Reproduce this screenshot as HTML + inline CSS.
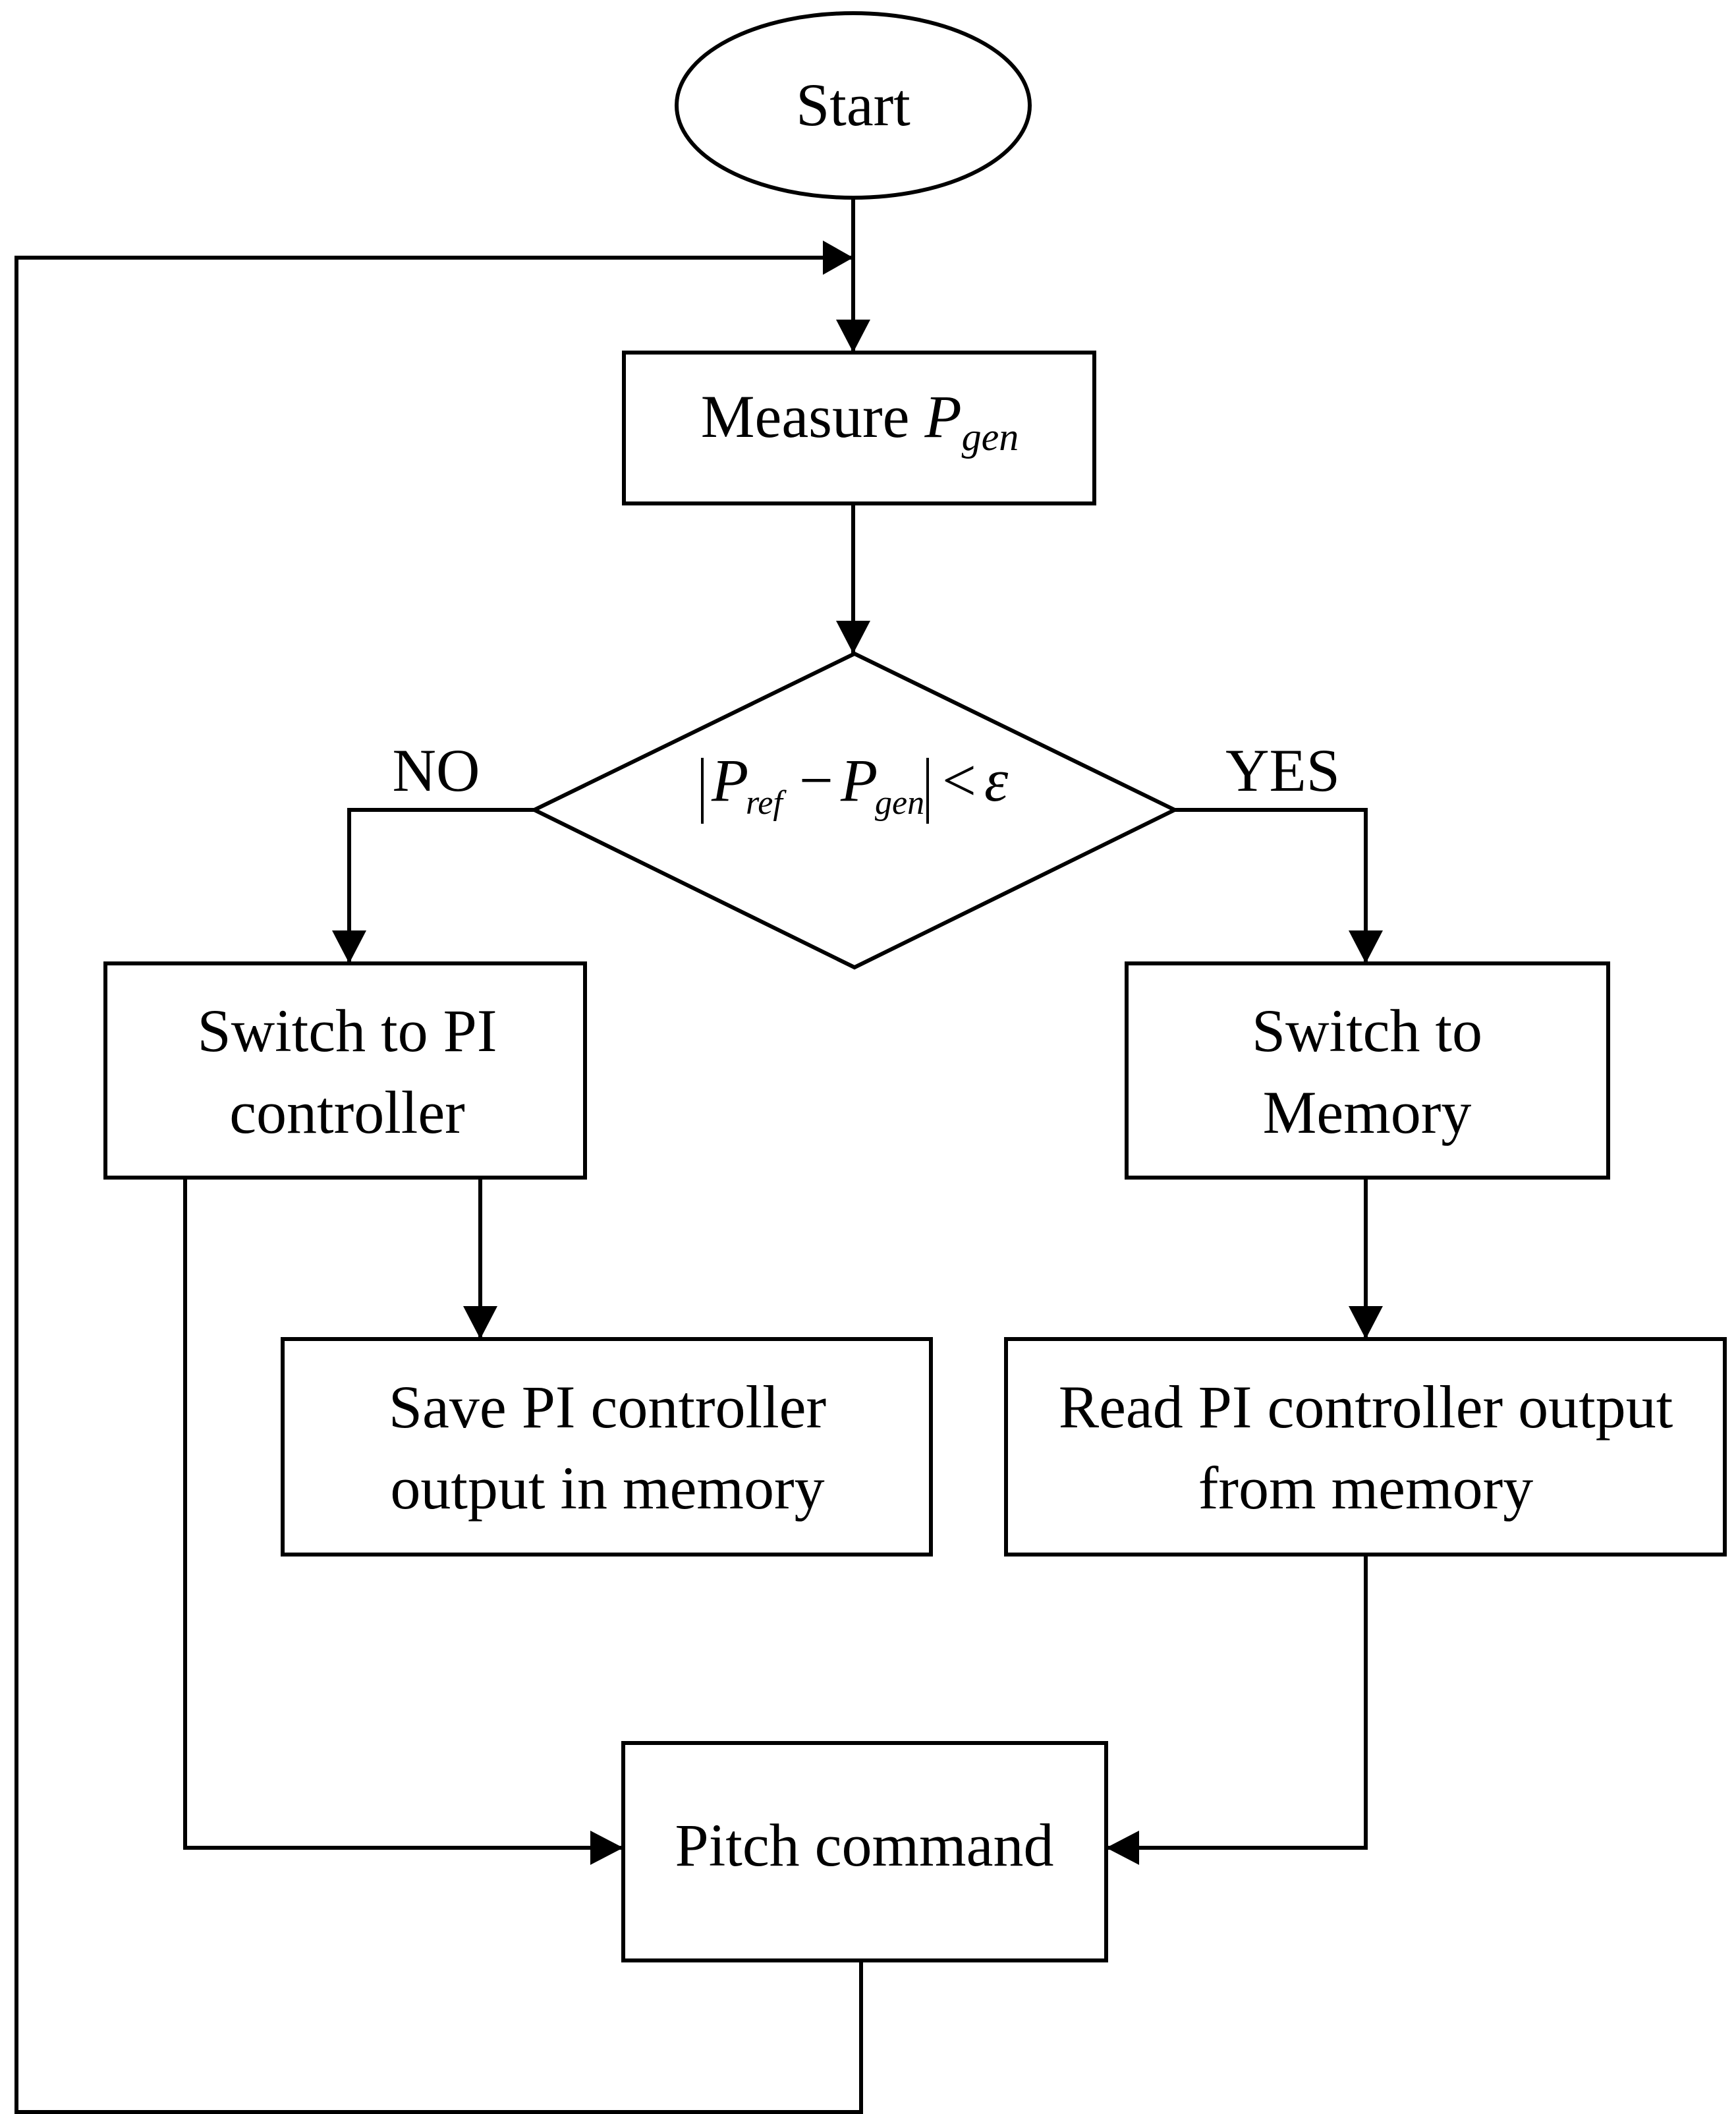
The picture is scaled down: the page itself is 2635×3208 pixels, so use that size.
<!DOCTYPE html>
<html><head><meta charset="utf-8"><style>html,body{margin:0;padding:0;background:#fff}svg{display:block}</style></head>
<body>
<svg width="2635" height="3208" viewBox="0 0 2635 3208" xmlns="http://www.w3.org/2000/svg" font-family="'Liberation Serif', serif" font-size="92">
<g fill="none" stroke="#000" stroke-width="6">
<ellipse cx="1295" cy="160" rx="268" ry="140"/>
<rect x="947" y="535" width="714" height="229"/>
<polygon points="1297,992 1783,1229 1297,1468 811,1229"/>
<rect x="160" y="1462" width="728" height="325"/>
<rect x="1710" y="1462" width="731" height="325"/>
<rect x="429" y="2032" width="984" height="327"/>
<rect x="1527" y="2032" width="1091" height="327"/>
<rect x="946" y="2645" width="733" height="330"/>
<polyline points="1295,300 1295,535"/>
<polyline points="1295,764 1295,992"/>
<polyline points="1307,2975 1307,3205 25,3205 25,391 1295,391"/>
<polyline points="811,1229 530,1229 530,1462"/>
<polyline points="1783,1229 2073,1229 2073,1462"/>
<polyline points="729,1787 729,2032"/>
<polyline points="2073,1787 2073,2032"/>
<polyline points="281,1787 281,2804 946,2804"/>
<polyline points="2073,2359 2073,2804 1679,2804"/>
</g>
<g fill="#000">
<path d="M1295,391 l-46,-26 v52 z"/>
<path d="M1295,535 l-26,-50 h52 z"/>
<path d="M1295,992 l-26,-50 h52 z"/>
<path d="M530,1462 l-26,-50 h52 z"/>
<path d="M2073,1462 l-26,-50 h52 z"/>
<path d="M729,2032 l-26,-50 h52 z"/>
<path d="M2073,2032 l-26,-50 h52 z"/>
<path d="M946,2804 l-50,-26 v52 z"/>
<path d="M1679,2804 l50,-26 v52 z"/>
</g>
<g text-anchor="middle" fill="#000">
<text x="1295" y="190">Start</text>
<text x="1305" y="663">Measure <tspan font-style="italic">P</tspan><tspan font-style="italic" font-size="60" dy="20">gen</tspan></text>
<text x="662" y="1200">NO</text>
<text x="1947" y="1200">YES</text>
<text x="527" y="1595">Switch to PI</text>
<text x="527" y="1719">controller</text>
<text x="2075" y="1595">Switch to</text>
<text x="2075" y="1719">Memory</text>
<text x="922" y="2166">Save PI controller</text>
<text x="922" y="2289">output in memory</text>
<text x="2073" y="2166">Read PI controller output</text>
<text x="2073" y="2289">from memory</text>
<text x="1312" y="2831">Pitch command</text>
</g>
<g fill="#000">
<line x1="1066" y1="1150" x2="1066" y2="1250" stroke="#000" stroke-width="4"/>
<line x1="1408" y1="1150" x2="1408" y2="1250" stroke="#000" stroke-width="4"/>
<text x="1080" y="1215" font-style="italic">P</text>
<text x="1132" y="1235" font-style="italic" font-size="52">ref</text>
<text x="1213" y="1215">−</text>
<text x="1276" y="1215" font-style="italic">P</text>
<text x="1328" y="1235" font-style="italic" font-size="52">gen</text>
<text x="1430" y="1215">&lt;</text>
<text x="1494" y="1215" font-style="italic">ε</text>
</g>
</svg>
</body></html>
